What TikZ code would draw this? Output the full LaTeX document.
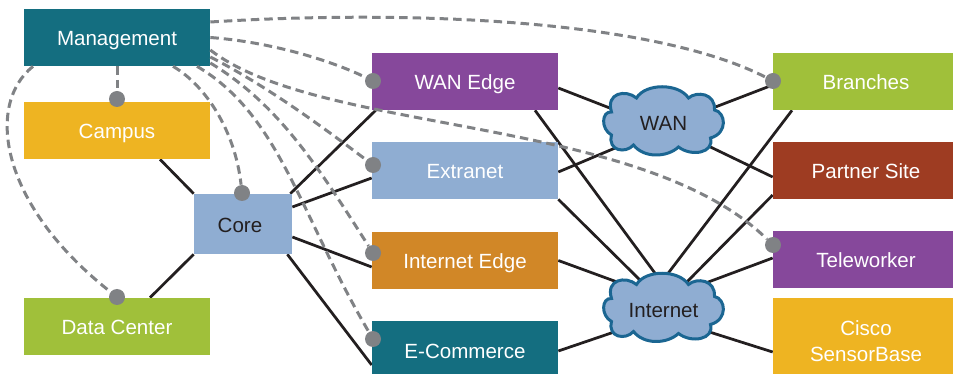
\documentclass[tikz,border=0pt]{standalone}
\usepackage{fontspec}
\setmainfont{Liberation Sans}
\usetikzlibrary{backgrounds}
\definecolor{tealbox}{HTML}{146E80}
\definecolor{goldbox}{HTML}{EEB422}
\definecolor{greenbox}{HTML}{A0C03A}
\definecolor{bluebox}{HTML}{8FADD2}
\definecolor{purplebox}{HTML}{86489B}
\definecolor{orangebox}{HTML}{D18727}
\definecolor{brownbox}{HTML}{9E3C22}
\definecolor{cloudline}{HTML}{1B6692}
\definecolor{dashgray}{HTML}{808285}
\definecolor{linkblack}{HTML}{231F20}
\tikzset{
  sitebox/.style={fill=#1,text=white,minimum width=3.72cm,minimum height=1.14cm,inner sep=0pt,align=center,text height=0.376cm,text depth=0.04cm,font=\fontsize{11.7}{14.6}\selectfont},
  cloudtext/.style={text=linkblack,inner sep=0pt,text height=0.44cm,text depth=0.04cm,font=\fontsize{11.7}{14.6}\selectfont},
  netcloud/.pic={
    \draw[draw=cloudline,line width=0.06cm,fill=bluebox] (-27,-23) .. controls (-18,-38) and (15,-38) .. (25,-23)
      .. controls (33,-30) and (52,-28) .. (51,-11) .. controls (62,-9) and (65,12) .. (47,17)
      .. controls (51,32) and (28,36) .. (15,26) .. controls (3,37) and (-20,37) .. (-30,24)
      .. controls (-38,33) and (-56,30) .. (-52,14) .. controls (-63,8) and (-62,-10) .. (-52,-9)
      .. controls (-58,-28) and (-38,-32) .. (-27,-23) -- cycle;
  },
  link/.style={draw=linkblack,line width=0.055cm},
  mgmtlink/.style={draw=dashgray,line width=0.06cm,dash pattern=on 0.17cm off 0.1cm},
  mgmtdot/.style={circle,fill=dashgray,minimum size=0.32cm,inner sep=0pt}
}
\begin{document}
\begin{tikzpicture}[x=0.02cm,y=-0.02cm]
\useasboundingbox (0,0) rectangle (953,374);
\node (mgmt) at (117,37.5) [sitebox=tealbox]{Management};
\node (campus) at (117,130.5) [sitebox=goldbox]{Campus};
\node (datacenter) at (117,326.5) [sitebox=greenbox]{Data Center};
\node (core) at (243,224) [sitebox=bluebox,text=linkblack,minimum width=1.96cm,minimum height=1.2cm]{Core\kern0.12cm};
\node (wanedge) at (465,81.5) [sitebox=purplebox]{WAN Edge};
\node (extranet) at (465,170.5) [sitebox=bluebox]{Extranet};
\node (internetedge) at (465,260.5) [sitebox=orangebox]{Internet Edge};
\node (ecommerce) at (465,350) [sitebox=tealbox,minimum height=1.16cm]{E-Commerce};
\node (branches) at (866,81.5) [sitebox=greenbox]{Branches};
\node (partner) at (866,170.5) [sitebox=brownbox]{Partner Site};
\node (teleworker) at (866,259.5) [sitebox=purplebox]{Teleworker};
\node (sensorbase) at (866,341) [sitebox=goldbox,text height=,text depth=,minimum height=1.72cm]{Cisco\\SensorBase};
\pic at (663.5,121) {netcloud};
\pic at (663.5,307.5) {netcloud};
\node (wan) at (663.5,121) [cloudtext]{WAN};
\node (internet) at (663.5,307.5) [cloudtext]{Internet};
\begin{scope}[on background layer]
\draw[link] ([shift={(43,0)}]campus.south) -- (core.north west);
\draw[link] ([shift={(33,0)}]datacenter.north) -- (core.south west);
\draw[link] ([shift={(-2,0)}]core.north east) -- ([shift={(4,0)}]wanedge.south west);
\draw[link] ([shift={(0,-17)}]core.east) -- ([shift={(0,7.5)}]extranet.west);
\draw[link] ([shift={(0,13)}]core.east) -- ([shift={(0,6.5)}]internetedge.west);
\draw[link] ([shift={(-5,0)}]core.south east) -- ([shift={(0,15)}]ecommerce.west);
\draw[link] ([shift={(0,6.5)}]wanedge.east) -- ([shift={(-43.5,-9)}]wan.center);
\draw[link] ([shift={(0,1.5)}]extranet.east) -- ([shift={(-36.5,22)}]wan.center);
\draw[link] ([shift={(0,3.5)}]branches.west) -- ([shift={(41.5,-10)}]wan.center);
\draw[link] ([shift={(0,6.5)}]partner.west) -- ([shift={(34.5,20)}]wan.center);
\draw[link] ([shift={(70,0)}]wanedge.south) -- ([shift={(-3.5,-27.5)}]internet.center);
\draw[link] (extranet.south east) -- ([shift={(-18.5,-22.5)}]internet.center);
\draw[link] (internetedge.east) -- ([shift={(-35.5,-21.5)}]internet.center);
\draw[link] ([shift={(0,1)}]ecommerce.east) -- ([shift={(-40.5,21.5)}]internet.center);
\draw[link] ([shift={(-74,0)}]branches.south) -- ([shift={(-0.5,-27.5)}]internet.center);
\draw[link] ([shift={(0,24.5)}]partner.west) -- ([shift={(16.5,-18.5)}]internet.center);
\draw[link] ([shift={(0,-1.5)}]teleworker.west) -- ([shift={(31.5,-20.5)}]internet.center);
\draw[link] ([shift={(0,11)}]sensorbase.west) -- ([shift={(36.5,21.5)}]internet.center);
\end{scope}
\node (dotcampus) at (117,99) [mgmtdot]{};
\node (dotdatacenter) at (117,297) [mgmtdot]{};
\node (dotcore) at (242,193) [mgmtdot]{};
\node (dotwanedge) at (373,81) [mgmtdot]{};
\node (dotextranet) at (373,165) [mgmtdot]{};
\node (dotinternetedge) at (373,253) [mgmtdot]{};
\node (dotecommerce) at (373,339) [mgmtdot]{};
\node (dotbranches) at (773,81) [mgmtdot]{};
\node (dotteleworker) at (773,245) [mgmtdot]{};
\draw[mgmtlink] (mgmt.south) -- (dotcampus);
\draw[mgmtlink] ([shift={(-84,0)}]mgmt.south) .. controls (-15,105) and (0,205) .. (dotdatacenter);
\draw[mgmtlink] ([shift={(56,0)}]mgmt.south) .. controls (205,85) and (235,130) .. (dotcore);
\draw[mgmtlink] ([shift={(80,0)}]mgmt.south) .. controls (280,115) and (300,215) .. (dotecommerce);
\draw[mgmtlink] ([shift={(0,25.5)}]mgmt.east) .. controls (280,105) and (320,170) .. (dotinternetedge);
\draw[mgmtlink] ([shift={(0,19.5)}]mgmt.east) .. controls (265,85) and (320,125) .. (dotextranet);
\draw[mgmtlink] ([shift={(0,12.5)}]mgmt.east) .. controls (320,135) and (640,115) .. (dotteleworker);
\draw[mgmtlink] (mgmt.east) .. controls (270,42) and (330,60) .. (dotwanedge);
\draw[mgmtlink] ([shift={(0,-15.5)}]mgmt.east) .. controls (400,10) and (650,18) .. (dotbranches);
\end{tikzpicture}
\end{document}
